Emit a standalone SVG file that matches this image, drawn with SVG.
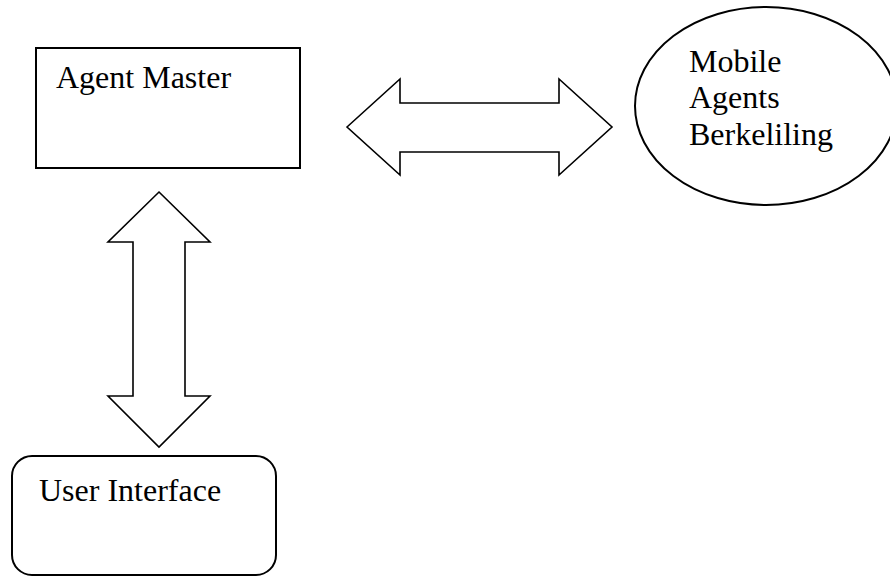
<svg xmlns="http://www.w3.org/2000/svg" width="890" height="576" viewBox="0 0 890 576">
  <style>
    .shape { fill: #ffffff; stroke: #000000; stroke-width: 2; }
    .arrow { fill: #ffffff; stroke: #000000; stroke-width: 1.6; stroke-linejoin: miter; }
    .label { font-family: "Liberation Serif", "Times New Roman", serif; font-size: 32px; fill: #000000; }
  </style>
  <rect width="890" height="576" fill="#ffffff"/>

  <!-- connectors: double-headed block arrows -->
  <g id="connectors">
    <polygon class="arrow" points="347,127 400,79 400,103 559,103 559,79 612,127 559,175 559,152 400,152 400,175"/>
    <polygon class="arrow" points="159,192 210,242 185,242 185,396 210,396 159,447 108,396 133,396 133,242 108,242"/>
  </g>

  <g id="agent-master">
    <rect class="shape" x="36" y="48" width="264" height="120"/>
    <text class="label" x="56" y="88">Agent Master</text>
  </g>

  <g id="mobile-agents">
    <ellipse class="shape" cx="766" cy="106" rx="131" ry="99"/>
    <text class="label" x="689" y="72">Mobile</text>
    <text class="label" x="689" y="108">Agents</text>
    <text class="label" x="689" y="145">Berkeliling</text>
  </g>

  <g id="user-interface">
    <rect class="shape" x="12" y="456" width="264" height="119" rx="20" ry="20"/>
    <text class="label" x="39" y="501">User Interface</text>
  </g>
</svg>
